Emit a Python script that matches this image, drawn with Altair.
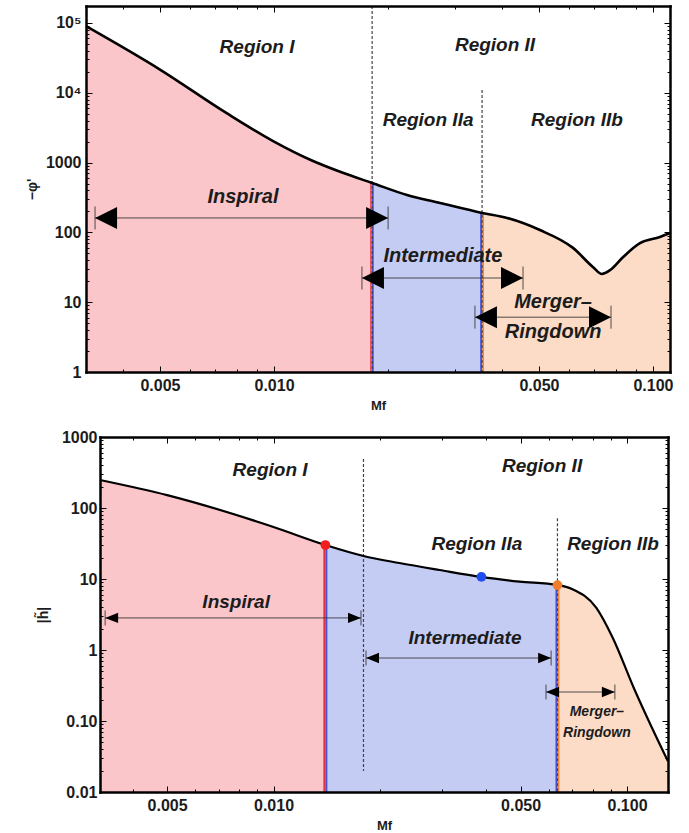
import altair as alt
import pandas as pd

FONT = "Liberation Sans"
INK = "#1c1c1c"

# ---------------- upper panel: -phi' against Mf ----------------
phase_f = [0.00319, 0.005, 0.0075, 0.010, 0.0125, 0.015, 0.01815, 0.02244, 0.02742,
           0.0354, 0.0412, 0.0503, 0.0615, 0.0694, 0.0733, 0.0771, 0.0833, 0.0924,
           0.1043, 0.1109]
phase_v = [90000, 21500, 5100, 2000, 1090, 733, 510, 343, 264,
           190, 161, 108, 60, 32, 25.4, 28.9, 44, 70,
           86, 98]
phase_xdomain = [0.00319, 0.1109]
phase_ydomain = [1, 175000]
phase_cuts = [0.01815, 0.0354]
phase_cut_v = [510, 190]
phase_dash_f = [0.01815, 0.0354]
phase_dash_top = [175000, 11000]
phase_dash_bottom = [1, 1]
phase_arrow_lo = [0.00337, 0.01706, 0.0339]
phase_arrow_hi = [0.0200, 0.0454, 0.0775]
phase_arrow_v = [161, 22.2, 6.1]
phase_text = ["Region I", "Region II", "Region IIa", "Region IIb",
              "Inspiral", "Intermediate", "Merger\u2013", "Ringdown"]
phase_text_f = [0.00902, 0.0383, 0.0255, 0.063, 0.00828, 0.0279, 0.0545, 0.0545]
phase_text_v = [45000, 48000, 4100, 4100, 321, 45.9, 10.1, 3.74]
phase_text_size = [19, 19, 19, 19, 20, 20, 20, 20]

# ---------------- lower panel: |h~| against Mf ----------------
amp_f = [0.00323, 0.005, 0.010, 0.01402, 0.01797, 0.02271, 0.02948, 0.03874, 0.04963,
         0.06357, 0.0701, 0.0818, 0.0911, 0.1049, 0.117, 0.1306]
amp_v = [248, 152, 54, 30.1, 21.1, 16.8, 13.4, 10.7, 9.2,
         8.2, 7.2, 3.95, 1.49, 0.28, 0.085, 0.027]
amp_xdomain = [0.00323, 0.1306]
amp_ydomain = [0.01, 1000]
amp_cuts = [0.01402, 0.06357]
amp_cut_v = [30.1, 8.2]
amp_dash_f = [0.01797, 0.06357]
amp_dash_top = [490, 72]
amp_dash_bottom = [0.0198, 0.01]
amp_dot_f = [0.01402, 0.03874, 0.06357]
amp_dot_v = [30.1, 10.7, 8.2]
amp_dot_color = ["#f21d1d", "#1f4cf0", "#f07d2a"]
amp_arrow_lo = [0.00334, 0.01827, 0.0590]
amp_arrow_hi = [0.01768, 0.0610, 0.0924]
amp_arrow_v = [2.83, 0.771, 0.256]
amp_text = ["Region I", "Region II", "Region IIa", "Region IIb",
            "Inspiral", "Intermediate", "Merger\u2013", "Ringdown"]
amp_text_f = [0.00978, 0.0575, 0.0376, 0.0913, 0.00784, 0.0348, 0.0822, 0.0822]
amp_text_v = [343, 391, 31.1, 31.1, 4.74, 1.48, 0.134, 0.0678]
amp_text_size = [19, 19, 19, 19, 19, 19, 14, 14]

region_names = ["I", "IIa", "IIb"]
region_fill = ["#fac6c9", "#c5ccf4", "#fcdcc6"]
RED, BLUE, ORANGE = "#e8303a", "#4650d6", "#f2873a"

x_major = [0.005, 0.01, 0.05, 0.1]
x_minor = [0.004, 0.006, 0.007, 0.008, 0.009, 0.02, 0.03, 0.04, 0.06, 0.07, 0.08, 0.09]


def log_minor(lo_exp, hi_exp, top):
    vals = []
    for e in range(lo_exp, hi_exp + 1):
        for m in range(2, 10):
            v = m * 10.0 ** e
            if v < top:
                vals.append(v)
    return vals


def region_frame(fs, vs, cuts):
    edges = [fs[0]] + cuts + [fs[-1]]
    rows = []
    for name, lo, hi in zip(region_names, edges[:-1], edges[1:]):
        for f, v in zip(fs, vs):
            if lo <= f <= hi:
                rows.append({"f": f, "v": v, "region": name})
    return pd.DataFrame(rows)


def panel(fs, vs, xdom, ydom, width, height, x0, cuts, cut_v, stripes,
          dash_f, dash_top, dash_bot, arr_lo, arr_hi, arr_v, head, bar,
          words, wf, wv, wsize, ymaj, ymin, ylabel_expr, ytitle, ytitle_pad,
          ylabel_pad, curve_w, dots=None):
    xs = alt.Scale(type="log", domain=xdom, range=[x0, width], nice=False)
    ys = alt.Scale(type="log", domain=ydom, nice=False)
    base = ydom[0]
    curve = pd.DataFrame({"f": fs, "v": vs})

    def X(field):
        return alt.X(field, type="quantitative", scale=xs, axis=None)

    def Y(field):
        return alt.Y(field, type="quantitative", scale=ys, axis=None, stack=None)

    layers = []
    # filled regions under the curve
    layers.append(
        alt.Chart(region_frame(fs, vs, cuts)).mark_area(interpolate="monotone", opacity=1).encode(
            x=X("f"), y=Y("v"), y2=alt.datum(base),
            color=alt.Color("region:N", scale=alt.Scale(domain=region_names, range=region_fill),
                            legend=None)))
    # coloured boundary lines
    for (ci, color, dx, w) in stripes:
        layers.append(
            alt.Chart(pd.DataFrame({"f": [cuts[ci]], "v": [cut_v[ci]]})).mark_rule(
                color=color, strokeWidth=w, xOffset=dx).encode(x=X("f"), y=Y("v"), y2=alt.datum(base)))
    # dashed region separators
    layers.append(
        alt.Chart(pd.DataFrame({"f": dash_f, "top": dash_top, "bot": dash_bot})).mark_rule(
            color="#444444", strokeWidth=1.2, strokeDash=[3, 2]).encode(
            x=X("f"), y=Y("top"), y2="bot:Q"))
    # the curve itself
    layers.append(
        alt.Chart(curve).mark_line(color="black", strokeWidth=curve_w, interpolate="monotone").encode(
            x=X("f"), y=Y("v")))
    if dots is not None:
        layers.append(
            alt.Chart(pd.DataFrame({"f": dots[0], "v": dots[1], "c": dots[2]})).mark_point(
                filled=True, size=95, opacity=1).encode(
                x=X("f"), y=Y("v"), color=alt.Color("c:N", scale=None)))
    # double arrows
    adf = pd.DataFrame({"lo": arr_lo, "hi": arr_hi, "v": arr_v})
    a = alt.Chart(adf)
    hl, hh = head
    layers += [
        a.mark_rule(color="#3a3a3a", strokeWidth=0.9).encode(x=X("lo"), x2="hi:Q", y=Y("v")),
        a.mark_point(shape=f"M0,0L2,-{hh}L2,{hh}Z", size=hl, filled=True, color="black",
                     opacity=1).encode(x=X("lo"), y=Y("v")),
        a.mark_point(shape=f"M0,0L-2,-{hh}L-2,{hh}Z", size=hl, filled=True, color="black",
                     opacity=1).encode(x=X("hi"), y=Y("v")),
        a.mark_point(shape="M0,-1L0,1", size=bar, filled=False, color="#3a3a3a", strokeWidth=0.9,
                     opacity=1).encode(x=X("lo"), y=Y("v")),
        a.mark_point(shape="M0,-1L0,1", size=bar, filled=False, color="#3a3a3a", strokeWidth=0.9,
                     opacity=1).encode(x=X("hi"), y=Y("v")),
    ]
    # annotations
    layers.append(
        alt.Chart(pd.DataFrame({"t": words, "f": wf, "v": wv, "s": wsize})).mark_text(
            fontWeight="bold", fontStyle="italic", color=INK, baseline="middle", font=FONT).encode(
            x=X("f"), y=Y("v"), text="t:N", size=alt.Size("s:Q", scale=None)))

    # frame with inward ticks on all four sides, plus the labelled axes
    def side(**kw):
        cfg = dict(labels=False, title=None, grid=False, tickColor="black", tickWidth=1,
                   domainColor="black", domainWidth=2.5, domainCap="square", zindex=2)
        cfg.update(kw)
        return alt.Axis(**cfg)

    def axis_layer(xa, ya):
        return alt.Chart(curve).mark_point(opacity=0).encode(
            x=alt.X("f:Q", scale=xs, axis=xa), y=alt.Y("v:Q", scale=ys, axis=ya))

    x_lab = alt.Axis(orient="bottom", values=x_major, format=".3f", domain=False, ticks=False,
                     grid=False, labelFontSize=16, labelFontWeight="bold", labelColor=INK,
                     labelFont=FONT, labelPadding=5, labelFlush=False,
                     title="Mf", titleFontSize=13, titleFontWeight="bold", titleColor=INK,
                     titleFont=FONT, titlePadding=6)
    y_lab = alt.Axis(orient="left", values=ymaj, labelExpr=ylabel_expr, domain=False, ticks=False,
                     grid=False, offset=-x0, labelFontSize=16, labelFontWeight="bold",
                     labelColor=INK, labelFont=FONT, labelPadding=ylabel_pad, labelFlush=False,
                     title=ytitle, titleFontSize=14, titleFontWeight="bold", titleColor=INK,
                     titleFont=FONT, titlePadding=ytitle_pad)
    layers += [
        axis_layer(x_lab, y_lab),
        axis_layer(side(orient="bottom", offset=-height, values=x_major, tickSize=6),
                   side(orient="right", offset=x0 - width, values=ymaj, tickSize=6)),
        axis_layer(side(orient="top", offset=-height, values=x_major, tickSize=6),
                   side(orient="left", offset=-width, values=ymaj, tickSize=6)),
        axis_layer(side(orient="bottom", offset=-height, values=x_minor, tickSize=3, domain=False),
                   side(orient="right", offset=x0 - width, values=ymin, tickSize=3, domain=False)),
        axis_layer(side(orient="top", offset=-height, values=x_minor, tickSize=3, domain=False),
                   side(orient="left", offset=-width, values=ymin, tickSize=3, domain=False)),
    ]
    return alt.layer(*layers).properties(width=width, height=height).resolve_axis(
        x="independent", y="independent")


top = panel(
    phase_f, phase_v, phase_xdomain, phase_ydomain, 584, 366, 0,
    phase_cuts, phase_cut_v,
    [(0, RED, -1.3, 1.2), (0, BLUE, 0.6, 2.0), (1, BLUE, -1.0, 1.8), (1, ORANGE, 1.0, 1.8)],
    phase_dash_f, phase_dash_top, phase_dash_bottom,
    phase_arrow_lo, phase_arrow_hi, phase_arrow_v, (484, 1), 529,
    phase_text, phase_text_f, phase_text_v, phase_text_size,
    [1, 10, 100, 1000, 10000, 100000], log_minor(0, 5, 175000),
    "datum.value > 99999 ? '10\u2075' : datum.value > 9999 ? '10\u2074' : format(datum.value, 'd')",
    "\u2212\u03c6'", 6, 5, 2.6)

bottom = panel(
    amp_f, amp_v, amp_xdomain, amp_ydomain, 582, 355, 14,
    amp_cuts, amp_cut_v,
    [(0, RED, -1.0, 2.0), (0, BLUE, 1.0, 2.0), (1, BLUE, -1.0, 2.0), (1, ORANGE, 1.0, 2.0)],
    amp_dash_f, amp_dash_top, amp_dash_bottom,
    amp_arrow_lo, amp_arrow_hi, amp_arrow_v, (169, 0.8), 225,
    amp_text, amp_text_f, amp_text_v, amp_text_size,
    [0.01, 0.1, 1, 10, 100, 1000], log_minor(-2, 2, 1000),
    "datum.value < 0.05 ? '0.01' : datum.value < 0.5 ? '0.10' : format(datum.value, 'd')",
    "|h\u0303|", 11, 3, 2.2,
    dots=(amp_dot_f, amp_dot_v, amp_dot_color))

chart = alt.vconcat(top, bottom, spacing=17).properties(
    padding={"left": 25, "top": 5, "right": 5, "bottom": 5},
    background="white",
).configure(font=FONT).configure_view(stroke=None)

chart.save("out.html", embed_options={"renderer": "svg", "actions": False})
